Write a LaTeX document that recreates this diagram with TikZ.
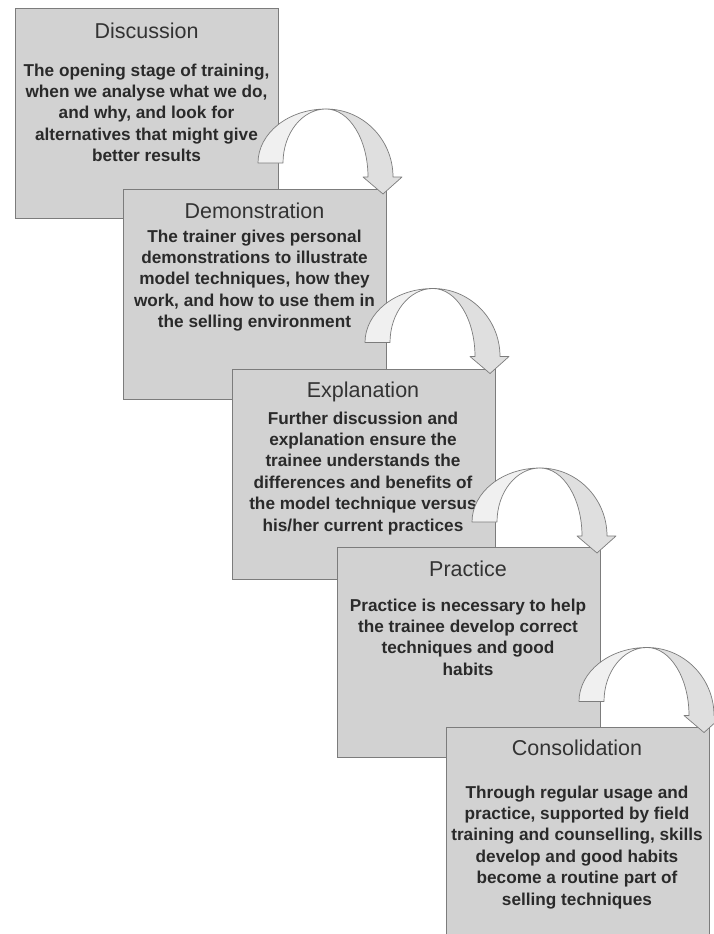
\documentclass[tikz,border=0pt]{standalone}
\usepackage{fontspec}
\setmainfont{Liberation Sans}
\definecolor{boxfill}{HTML}{D2D2D2}
\definecolor{boxline}{HTML}{7C7C7C}
\definecolor{titlecol}{HTML}{333333}
\definecolor{bodycol}{HTML}{2A2A2A}
\definecolor{faceA}{HTML}{F0F0F0}
\definecolor{faceB}{HTML}{DFDFDF}
\tikzset{
  stagebox/.style={draw=boxline, fill=boxfill, line width=0.8pt, minimum width=263pt, minimum height=210pt, anchor=north west, inner sep=0pt},
  stagetitle/.style={anchor=base, text=titlecol, font=\fontsize{21.5pt}{25pt}\selectfont, inner sep=0pt},
  stagebody/.style={anchor=base, text=bodycol, align=center, font=\bfseries\fontsize{17.2pt}{21.4pt}\selectfont, inner sep=0pt},
  arrowface/.style={draw=boxline, line width=0.7pt, line join=round}
}
\begin{document}
\begin{tikzpicture}[x=1pt,y=1pt]
\useasboundingbox (0,0) rectangle (714,-934);
\clip (0,0) rectangle (714,-934);
\fill[white] (0,0) rectangle (714,-934);

% body nodes: the base anchor is the baseline of the LAST line
\node[stagebox] (b1) at (15,-8) {};
\node[stagetitle] (t1) at (146.5,-39) {Discussion};
\node[stagebody] (d1) at (146.5,-161.6) {The opening stage of training,\\when we analyse what we do,\\and why, and look for\\alternatives that might give\\better results};

\node[stagebox] (b2) at (123,-189) {};
\node[stagetitle] (t2) at (254.5,-218.5) {Demonstration};
\node[stagebody] (d2) at (254.5,-327.6) {The trainer gives personal\\demonstrations to illustrate\\model techniques, how they\\work, and how to use them in\\the selling environment};

\node[stagebox] (b3) at (232,-369) {};
\node[stagetitle] (t3) at (363,-397.5) {Explanation};
\node[stagebody] (d3) at (363,-531) {Further discussion and\\explanation ensure the\\trainee understands the\\differences and benefits of\\the model technique versus\\his/her current practices};

\node[stagebox] (b4) at (337,-547) {};
\node[stagetitle] (t4) at (468,-576.5) {Practice};
\node[stagebody] (d4) at (468,-675.2) {Practice is necessary to help\\the trainee develop correct\\techniques and good\\habits};

\node[stagebox, minimum height=215pt] (b5) at (446,-727) {};
\node[stagetitle] (t5) at (577,-755.5) {Consolidation};
\node[stagebody] (d5) at (577,-905) {Through regular usage and\\practice, supported by field\\training and counselling, skills\\develop and good habits\\become a routine part of\\selling techniques};

\foreach \k in {0,1,2,3}{
  \begin{scope}[shift={(107*\k,-179.5*\k)}]
    \coordinate (top\k) at (326,-109);
    \filldraw[arrowface, fill=faceA] (258,-163) arc[start angle=180, end angle=90, x radius=68pt, y radius=54pt]
      arc[start angle=90, end angle=180, x radius=43pt, y radius=54pt] -- cycle;
    \filldraw[arrowface, fill=faceB] (top\k) arc[start angle=90, end angle=0, x radius=67pt, y radius=68pt]
      -- (402,-177) -- (383,-194) -- (363,-177) -- (368,-177)
      arc[start angle=0, end angle=90, x radius=42pt, y radius=68pt] -- cycle;
  \end{scope}
}
\end{tikzpicture}
\end{document}
